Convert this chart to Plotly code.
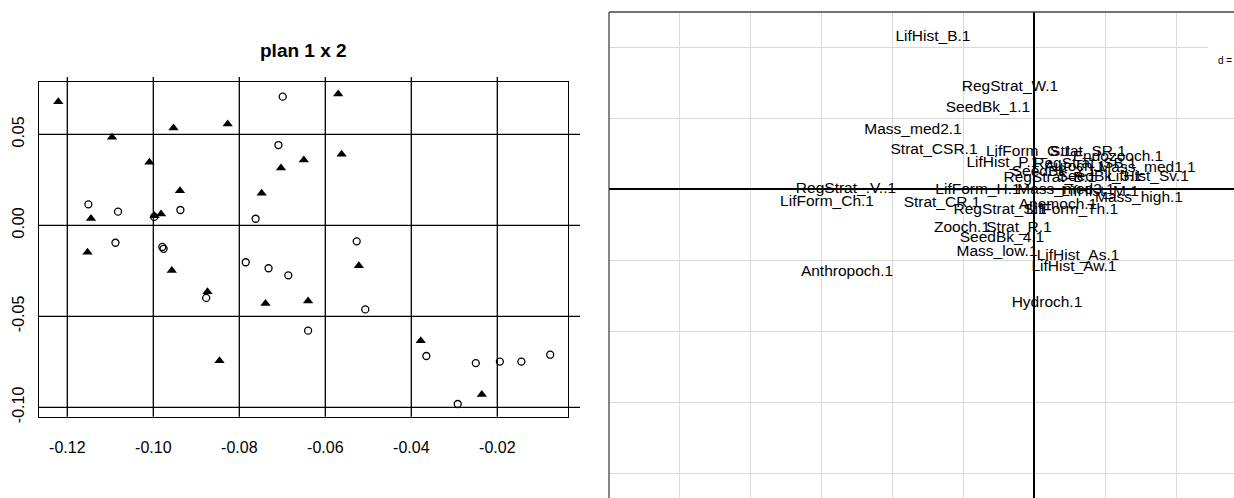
import plotly.graph_objects as go

W = 1234
HF = 504          # figure height; the capture maps it onto 498 visible rows
SY = HF / 498.0   # vertical pixel factor (visible px -> figure px)

# ---------------- Left panel data ("plan 1 x 2") ----------------
tri_x = [-0.1221, -0.1096, -0.1009, -0.0953, -0.0827, -0.0938, -0.1145, -0.0997, -0.0982,
         -0.1153, -0.0957, -0.0748, -0.0703, -0.0650, -0.0570, -0.0562, -0.0522, -0.0874,
         -0.0739, -0.0640, -0.0846, -0.0378, -0.0236]
tri_y = [0.0679, 0.0484, 0.0346, 0.0535, 0.0557, 0.0190, 0.0038, 0.0053, 0.0062,
         -0.0148, -0.0249, 0.0176, 0.0315, 0.0359, 0.0721, 0.0390, -0.0222, -0.0365,
         -0.0429, -0.0416, -0.0744, -0.0634, -0.0929]

circ_x = [-0.0699, -0.0709, -0.1151, -0.1082, -0.0937, -0.0998, -0.0762, -0.1088, -0.0979,
          -0.0976, -0.0785, -0.0732, -0.0686, -0.0877, -0.0640, -0.0527, -0.0507, -0.0365,
          -0.0250, -0.0194, -0.0144, -0.0077, -0.0292]
circ_y = [0.0707, 0.0441, 0.0115, 0.0075, 0.0084, 0.0046, 0.0036, -0.0096, -0.0119,
          -0.0129, -0.0203, -0.0236, -0.0275, -0.0399, -0.0579, -0.0088, -0.0462, -0.0718,
          -0.0757, -0.0749, -0.0749, -0.0711, -0.0982]

x_ticks = [-0.12, -0.10, -0.08, -0.06, -0.04, -0.02]
x_tick_text = ["-0.12", "-0.10", "-0.08", "-0.06", "-0.04", "-0.02"]
y_ticks = [0.05, 0.00, -0.05, -0.10]
y_tick_text = ["0.05", "0.00", "-0.05", "-0.10"]
left_title = "plan 1 x 2"

# ---------------- Right panel data (labels) ----------------
lab_names = ["LifHist_B.1", "RegStrat_W.1", "SeedBk_1.1", "Mass_med2.1", "Strat_CSR.1",
             "LifForm_G.1", "Strat_SR.1", "Endozooch.1", "LifHist_P.1", "RegStrat_SB.1",
             "Mass_med1.1", "SeedBk_2.1", "Autoch.1", "RegStrat_B.1", "SeedBk_3.1",
             "LifHist_Sv.1", "LifForm_H.1", "Mass_med3.1", "LifHist_M.1", "Mass_high.1",
             "Strat_CR.1", "RegStrat_S.1", "Anemoch.1", "LifForm_Th.1", "Zooch.1",
             "Strat_R.1", "SeedBk_4.1", "Mass_low.1", "LifHist_As.1", "LifHist_Aw.1",
             "Anthropoch.1", "Hydroch.1", "RegStrat_.V..1", "LifForm_Ch.1"]
lab_x = [-0.1423, -0.0338, -0.0648, -0.1704, -0.1408,
         -0.0070, 0.0761, 0.1183, -0.0437, 0.0718,
         0.1592, 0.0282, 0.0577, 0.0225, 0.0930,
         0.1606, -0.0789, 0.0451, 0.0930, 0.1479,
         -0.1296, -0.0479, 0.0338, 0.0535, -0.1014,
         -0.0211, -0.0451, -0.0521, 0.0620, 0.0563,
         -0.2634, 0.0183, -0.2648, -0.2915]
lab_y = [0.2141, 0.1437, 0.1141, 0.0831, 0.0549,
         0.0521, 0.0521, 0.0451, 0.0366, 0.0352,
         0.0296, 0.0239, 0.0310, 0.0155, 0.0169,
         0.0169, -0.0014, -0.0014, -0.0042, -0.0127,
         -0.0197, -0.0296, -0.0225, -0.0296, -0.0549,
         -0.0549, -0.0690, -0.0887, -0.0944, -0.1099,
         -0.1169, -0.1606, 0.0, -0.0183]
grid_d = 0.1
d_label = "d = 0.1"

# ---------------- layout geometry (visible pixels -> paper) ----------------
def px(x):
    return x / W

def py(y):
    return 1 - (y * SY) / HF

L_left, L_right, L_top, L_bottom = 38.7, 568.0, 82.0, 416.7
R_left, R_top = 609.0, 12.0
R_ox, R_oy, R_scale = 1034.0, 189.0, 71.0 / grid_d

fig = go.Figure()

fig.add_trace(go.Scatter(x=tri_x, y=tri_y, mode="markers", xaxis="x", yaxis="y",
                         marker=dict(symbol="triangle-up", size=9, color="black",
                                     line=dict(width=0)),
                         showlegend=False, hoverinfo="skip"))
fig.add_trace(go.Scatter(x=circ_x, y=circ_y, mode="markers", xaxis="x", yaxis="y",
                         marker=dict(symbol="circle-open", size=7, color="black",
                                     line=dict(width=1.3, color="black")),
                         showlegend=False, hoverinfo="skip"))

fig.add_trace(go.Scatter(x=lab_x, y=lab_y, mode="text", text=lab_names, xaxis="x2", yaxis="y2",
                         textposition="middle center",
                         textfont=dict(family="Liberation Sans, Arial, sans-serif", size=15.5,
                                       color="black"),
                         showlegend=False, hoverinfo="skip", cliponaxis=True))

x0 = -0.12 + (L_left - 67.3) / 4300
x1 = -0.12 + (L_right - 67.3) / 4300
y1 = (225.3 - L_top) / 1820
y0 = -(L_bottom - 225.3) / 1820

rx0 = (R_left - R_ox) / R_scale
rx1 = (W - R_ox) / R_scale
ry0 = (R_oy - 498.0) / R_scale
ry1 = (R_oy - R_top) / R_scale

tick_font = dict(family="Liberation Sans, Arial, sans-serif", size=16, color="black")

fig.update_layout(
    width=W, height=HF, margin=dict(l=0, r=0, t=0, b=0, pad=0),
    paper_bgcolor="white", plot_bgcolor="white",
    xaxis=dict(domain=[px(L_left), px(L_right)], range=[x0, x1], showgrid=False,
               zeroline=False, showline=True, mirror=True, linecolor="black", linewidth=1.3,
               tickvals=x_ticks, ticktext=x_tick_text, ticks="", ticklabelstandoff=16,
               tickfont=tick_font, fixedrange=True),
    yaxis=dict(domain=[py(L_bottom), py(L_top)], range=[y0, y1], showgrid=False,
               zeroline=False, showline=True, mirror=True, linecolor="black", linewidth=1.3,
               tickvals=y_ticks, ticktext=y_tick_text, ticks="", tickangle=-90,
               ticklabelstandoff=7, tickfont=tick_font, fixedrange=True),
    xaxis2=dict(domain=[px(R_left), 1.0], range=[rx0, rx1], anchor="y2",
                showgrid=True, gridcolor="#dadada", gridwidth=1.3, dtick=grid_d, tick0=0,
                zeroline=True, zerolinecolor="black", zerolinewidth=1.5,
                showticklabels=False, ticks="", showline=False, fixedrange=True),
    yaxis2=dict(domain=[0.0, py(R_top)], range=[ry0, ry1], anchor="x2",
                showgrid=True, gridcolor="#dadada", gridwidth=1.3, dtick=grid_d, tick0=0,
                zeroline=True, zerolinecolor="black", zerolinewidth=1.5,
                showticklabels=False, ticks="", showline=False, fixedrange=True),
)

shapes = []
for xt in x_ticks:
    shapes.append(dict(type="line", xref="x", yref="paper", x0=xt, x1=xt,
                       y0=py(L_bottom), y1=py(77), line=dict(color="black", width=1.3),
                       layer="below"))
for yt in y_ticks:
    shapes.append(dict(type="line", xref="paper", yref="y", x0=px(L_left), x1=px(580),
                       y0=yt, y1=yt, line=dict(color="black", width=1.3), layer="below"))
shapes.append(dict(type="line", xref="paper", yref="paper", x0=px(R_left), x1=1.0,
                   y0=py(R_top), y1=py(R_top), line=dict(color="#444444", width=1.5)))
shapes.append(dict(type="line", xref="paper", yref="paper", x0=px(R_left), x1=px(R_left),
                   y0=0, y1=py(R_top), line=dict(color="#444444", width=1.3)))
shapes.append(dict(type="rect", xref="paper", yref="paper", x0=px(1208), x1=1.0,
                   y0=py(80), y1=py(R_top + 1.5), fillcolor="white",
                   line=dict(width=0), layer="above"))
fig.update_layout(shapes=shapes)

fig.add_annotation(text="<b>" + left_title + "</b>", xref="paper", yref="paper",
                   x=px((L_left + L_right) / 2), y=py(51), xanchor="center", yanchor="middle",
                   showarrow=False,
                   font=dict(family="Liberation Sans, Arial, sans-serif", size=19, color="black"))
fig.add_annotation(text=d_label, xref="paper", yref="paper", x=px(1216), y=py(61),
                   xanchor="left", yanchor="middle", showarrow=False,
                   font=dict(family="Liberation Sans, Arial, sans-serif", size=10, color="black"))

fig.write_html("out.html", config={"displayModeBar": False},
               post_script="document.body.style.margin='0';")
